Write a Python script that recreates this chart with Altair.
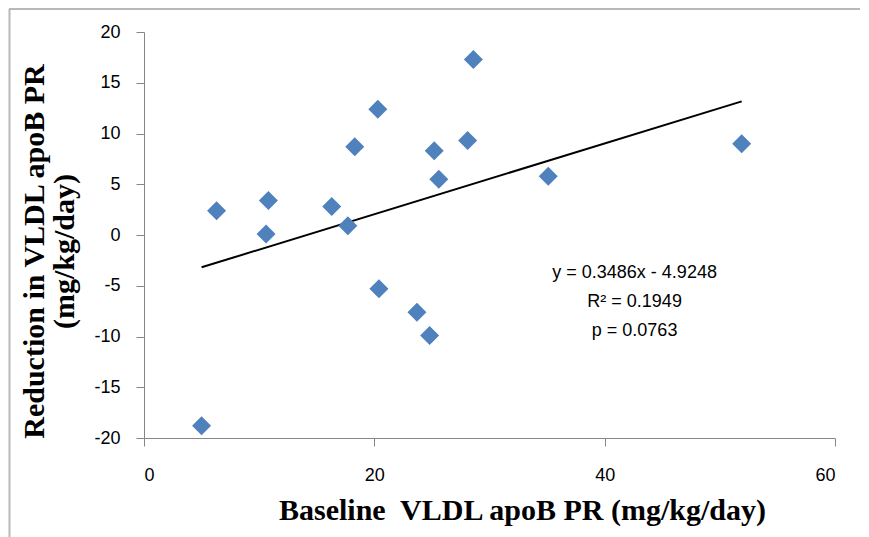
import altair as alt
import pandas as pd

# Data
baseline = [5.0, 6.3, 10.8, 10.6, 16.3, 17.7, 18.3, 20.3, 28.6, 25.2, 25.6, 28.1, 35.1, 51.9, 20.4, 23.7, 24.8]
reduction = [-18.8, 2.4, 3.4, 0.1, 2.8, 0.9, 8.7, 12.4, 17.3, 8.3, 5.5, 9.3, 5.8, 9.0, -5.3, -7.6, -9.9]

slope = 0.3486
intercept = -4.9248

ann_lines = ["y = 0.3486x - 4.9248", "R\u00b2 = 0.1949", "p = 0.0763"]
ann_x = [42.6, 42.6, 42.6]
ann_y = [-3.7, -6.6, -9.5]

x_ticks = [0, 20, 40, 60]
y_ticks = [-20, -15, -10, -5, 0, 5, 10, 15, 20]

pts = pd.DataFrame({"x": baseline, "y": reduction})
trend = pd.DataFrame({"x": [min(baseline), max(baseline)]})
ann = pd.DataFrame({"label": ann_lines, "x": ann_x, "y": ann_y})

W, H = 691, 406

xscale = alt.Scale(domain=[0, 60], nice=False, zero=False)
yscale = alt.Scale(domain=[-20, 20], nice=False, zero=False)

xaxis = alt.Axis(
    values=x_ticks, grid=False, domainColor="#868686", tickColor="#868686",
    tickSize=8, labelFont="Liberation Sans", labelFontSize=18, labelColor="#000000",
    labelPadding=20, labelExpr="'' + datum.value",
    title="Baseline\u00a0 VLDL apoB PR (mg/kg/day)",
    titleFont="Liberation Serif", titleFontSize=30, titleFontWeight="bold",
    titleColor="#000000", titleX=378, titleY=81, titleBaseline="alphabetic",
    titleAnchor="middle", titleAlign="center",
)
yaxis = alt.Axis(
    values=y_ticks, grid=False, domainColor="#868686", tickColor="#868686",
    tickSize=8, labelFont="Liberation Sans", labelFontSize=18, labelColor="#000000",
    labelPadding=16, labelExpr="'' + datum.value",
    title=["Reduction in VLDL apoB PR", "(mg/kg/day)"],
    titleFont="Liberation Serif", titleFontSize=30, titleFontWeight="bold",
    titleColor="#000000", titleLineHeight=30, titleAngle=-90,
    titleX=-110, titleY=219, titleBaseline="middle", titleAlign="center",
)

points = alt.Chart(pts).mark_point(
    shape="diamond", filled=True, size=361, color="#4F81BD", opacity=1
).encode(
    x=alt.X("x:Q", scale=xscale, axis=xaxis),
    y=alt.Y("y:Q", scale=yscale, axis=yaxis),
)

line = alt.Chart(trend).transform_calculate(
    y=f"{slope} * datum.x + ({intercept})"
).mark_line(color="#000000", strokeWidth=2).encode(
    x=alt.X("x:Q", scale=xscale),
    y=alt.Y("y:Q", scale=yscale),
)

text = alt.Chart(ann).mark_text(
    font="Liberation Sans", fontSize=18, color="#000000", align="center", baseline="middle"
).encode(
    x=alt.X("x:Q", scale=xscale),
    y=alt.Y("y:Q", scale=yscale),
    text="label:N",
)

one = alt.Data(values=[{"a": 1}])
border_left = alt.Chart(one).mark_rule(color="#b8b8b8", strokeWidth=2).encode(
    x=alt.value(-134.5), y=alt.value(-23), y2=alt.value(H + 120)
)
border_top = alt.Chart(one).mark_rule(color="#b8b8b8", strokeWidth=2).encode(
    x=alt.value(-135), x2=alt.value(W + 25), y=alt.value(-23)
)

chart = alt.layer(border_left, border_top, line, points, text).properties(
    width=W, height=H,
    autosize=alt.AutoSizeParams(type="none"),
    padding={"left": 136, "top": 24, "right": 25, "bottom": 100},
).configure_view(stroke=None)

chart.save("out.html", embed_options={"renderer": "svg", "actions": False})
